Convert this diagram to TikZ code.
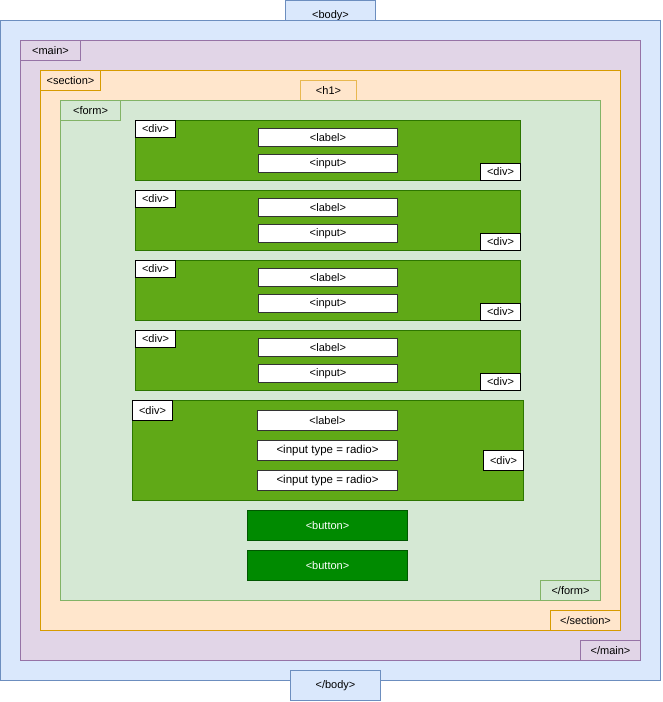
\documentclass[tikz,border=0pt]{standalone}
\usepackage{fontspec}
\setmainfont{Liberation Sans}

\begin{document}
\begin{tikzpicture}[x=1pt, y=-1pt, line width=1pt,
  tag/.style={draw, inner sep=0pt, anchor=north west, font=\fontsize{11}{13}\selectfont},
  wide/.style={tag, font=\fontsize{11.5}{14}\selectfont}]

  % Define custom colors
  \definecolor{bodyfill}{HTML}{DAE8FC}
  \definecolor{bodyline}{HTML}{6C8EBF}
  \definecolor{mainfill}{HTML}{E1D5E7}
  \definecolor{mainline}{HTML}{9673A6}
  \definecolor{secfill}{HTML}{FFE6CC}
  \definecolor{secline}{HTML}{D79B00}
  \definecolor{hline}{HTML}{E8B850}
  \definecolor{formfill}{HTML}{D5E8D4}
  \definecolor{formline}{HTML}{82B366}
  \definecolor{divfill}{HTML}{60A917}
  \definecolor{divline}{HTML}{2D7600}
  \definecolor{btnfill}{HTML}{008A00}
  \definecolor{btnline}{HTML}{005700}
  \useasboundingbox (0,0) rectangle (662,702);
  % Body
  \node[tag, draw=bodyline, fill=bodyfill, minimum width=90pt, minimum height=30pt] (bodyopen) at (285,0) {<body>};
  \draw[bodyline, fill=bodyfill] (0,20) rectangle (660,680);
  \node[tag, draw=bodyline, fill=bodyfill, minimum width=90pt, minimum height=30pt] (bodyclose) at (290,670) {</body>};
  % Main
  \draw[mainline, fill=mainfill] (20,40) rectangle (640,660);
  \node[tag, draw=mainline, fill=mainfill, minimum width=60pt, minimum height=20pt] (mainopen) at (20,40) {<main>};
  \node[tag, draw=mainline, fill=mainfill, minimum width=60pt, minimum height=20pt] (mainclose) at (580,640) {</main>};
  % Section
  \draw[secline, fill=secfill] (40,70) rectangle (620,630);
  \node[tag, draw=secline, fill=secfill, minimum width=60pt, minimum height=20pt] (secopen) at (40,70) {<section>};
  \node[tag, draw=secline, fill=secfill, minimum width=70pt, minimum height=20pt] (secclose) at (550,610) {</section>};
  \node[tag, draw=hline, fill=secfill, minimum width=56pt, minimum height=20pt] (head) at (300,80) {<h1>};
  % Form
  \draw[formline, fill=formfill] (60,100) rectangle (600,600);
  \node[tag, draw=formline, fill=formfill, minimum width=60pt, minimum height=20pt] (formopen) at (60,100) {<form>};
  \node[tag, draw=formline, fill=formfill, minimum width=60pt, minimum height=20pt] (formclose) at (540,580) {</form>};
  % Label and input divs
  \foreach \i in {0,...,3} {
    \pgfmathsetmacro{\y}{120 + 70*\i}
    \draw[divline, fill=divfill] (135,\y) rectangle (520,\y+60);
    \node[tag, fill=white, minimum width=40pt, minimum height=17pt] (divopen\i) at (135,\y) {<div>};
    \node[tag, fill=white, minimum width=40pt, minimum height=17pt] (divclose\i) at (480,\y+43) {<div>};
    \node[tag, draw=black!80, fill=white, minimum width=139pt, minimum height=18pt] (label\i) at (258,\y+8) {<label>};
    \node[tag, draw=black!80, fill=white, minimum width=139pt, minimum height=18pt] (input\i) at (258,\y+34) {<input>};
  }
  % Radio div
  \draw[divline, fill=divfill] (132,400) rectangle (523,500);
  \node[tag, fill=white, minimum width=40pt, minimum height=20pt] (divopen4) at (132,400) {<div>};
  \node[tag, fill=white, minimum width=40pt, minimum height=20pt] (divclose4) at (483,450) {<div>};
  \node[tag, draw=black!80, fill=white, minimum width=140pt, minimum height=20pt] (label4) at (257,410) {<label>};
  \node[wide, draw=black!80, fill=white, minimum width=140pt, minimum height=20pt] (radioa) at (257,440) {<input type = radio>};
  \node[wide, draw=black!80, fill=white, minimum width=140pt, minimum height=20pt] (radiob) at (257,470) {<input type = radio>};
  % Buttons
  \node[tag, draw=btnline, fill=btnfill, text=white, minimum width=160pt, minimum height=30pt] (btna) at (247,510) {<button>};
  \node[tag, draw=btnline, fill=btnfill, text=white, minimum width=160pt, minimum height=30pt] (btnb) at (247,550) {<button>};

\end{tikzpicture}
\end{document}
